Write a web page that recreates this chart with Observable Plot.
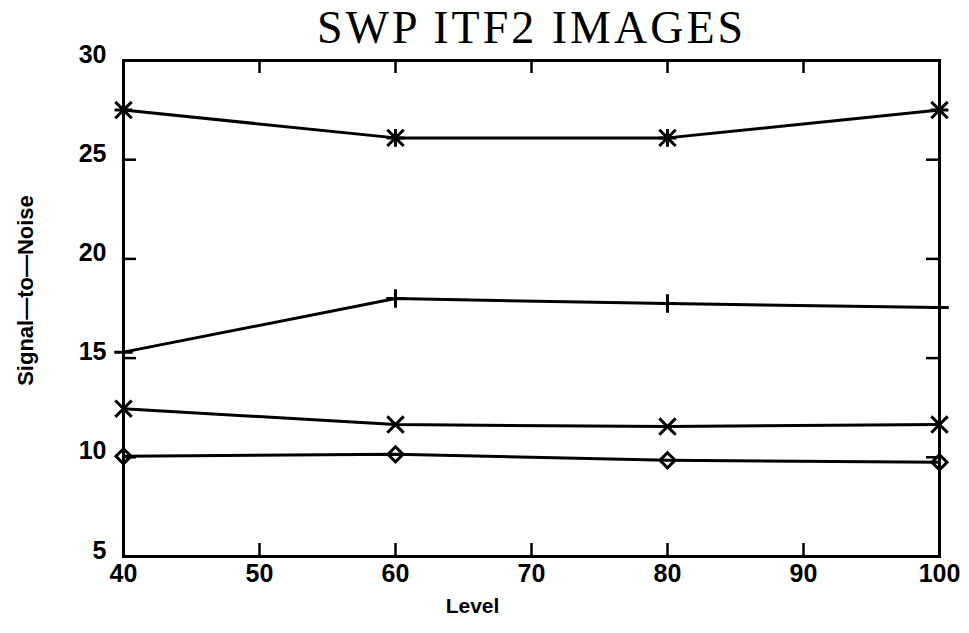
<!DOCTYPE html>
<html>
<head>
<meta charset="utf-8">
<script src="https://cdn.jsdelivr.net/npm/d3@7"></script>
<script src="https://cdn.jsdelivr.net/npm/@observablehq/plot@0.6"></script>
<style>
  html, body { margin: 0; padding: 0; background: #fff; }
</style>
</head>
<body>
<div id="chart"></div>
<script>
// ---- data ----
const levels = [40, 60, 80, 100];
const seriesStar    = [27.5, 26.1, 26.1, 27.5];     // asterisk markers
const seriesPlus    = [15.3, 18.0, 17.75, 17.55];   // plus markers
const seriesTimes   = [12.45, 11.65, 11.55, 11.65]; // x markers
const seriesDiamond = [10.05, 10.15, 9.85, 9.75];   // diamond markers
const xTickValues = [40, 50, 60, 70, 80, 90, 100];
const yTickValues = [5, 10, 15, 20, 25, 30];
const titleText = "SWP ITF2 IMAGES";
const xLabel = "Level";
const yLabel = "Signal\u2014to\u2014Noise";

const seriesList = [
  {name: "star", values: seriesStar},
  {name: "plus", values: seriesPlus},
  {name: "times", values: seriesTimes},
  {name: "diamond", values: seriesDiamond}
];
const rows = seriesList.flatMap(s => levels.map((lv, i) => ({series: s.name, level: lv, snr: s.values[i]})));
const bySeries = name => rows.filter(d => d.series === name);

const W = 969, H = 633;
const M = {top: 60, right: 30, bottom: 77, left: 123};
const fw = W - M.left - M.right, fh = H - M.top - M.bottom;
const tickLen = 13;
const innerX = xTickValues.slice(1, -1);
const innerY = yTickValues.slice(1, -1);
const sans = "'Liberation Sans', Arial, sans-serif";
const dotStyle = {x: "level", y: "snr", stroke: "black", strokeWidth: 3, fill: "none"};

const marks = [
  Plot.frame({stroke: "black", strokeWidth: 3}),
  // inward ticks on all four sides
  Plot.tickX(innerX, {x: d => d, insetTop: fh - tickLen, stroke: "black", strokeWidth: 2.5}),
  Plot.tickX(innerX, {x: d => d, insetBottom: fh - tickLen, stroke: "black", strokeWidth: 2.5}),
  Plot.tickY(innerY, {y: d => d, insetRight: fw - tickLen, stroke: "black", strokeWidth: 2.5}),
  Plot.tickY(innerY, {y: d => d, insetLeft: fw - tickLen, stroke: "black", strokeWidth: 2.5}),
  Plot.axisX({ticks: xTickValues, tickSize: 0, tickPadding: 8, fontSize: 25, fontWeight: "bold", fontFamily: sans, label: null}),
  Plot.axisY({ticks: yTickValues, tickSize: 0, tickPadding: 17, dy: -6, fontSize: 25, fontWeight: "bold", fontFamily: sans, label: null}),
  ...seriesList.map(s => Plot.line(bySeries(s.name), {x: "level", y: "snr", stroke: "black", strokeWidth: 3})),
  // Matlab-style '*' = plus + times
  Plot.dot(bySeries("star"), {...dotStyle, symbol: "plus", r: 5.8}),
  Plot.dot(bySeries("star"), {...dotStyle, symbol: "times", r: 7.5}),
  Plot.dot(bySeries("plus"), {...dotStyle, symbol: "plus", r: 6}),
  Plot.dot(bySeries("times"), {...dotStyle, symbol: "times", r: 7.5}),
  Plot.dot(bySeries("diamond"), {...dotStyle, symbol: "diamond2", r: 6.8}),
  Plot.text([titleText], {frameAnchor: "top", dy: -18, lineAnchor: "bottom", fontSize: 46, fontFamily: "'Liberation Serif', 'Times New Roman', serif", fill: "black"}),
  Plot.text([xLabel], {frameAnchor: "bottom", dy: 56, dx: -59, lineAnchor: "bottom", textAnchor: "middle", fontSize: 21, fontWeight: "bold", fontFamily: sans, fill: "black"}),
  Plot.text([yLabel], {frameAnchor: "left", dx: -98, dy: -18, rotate: -90, textAnchor: "middle", fontSize: 22, fontWeight: "bold", fontFamily: sans, fill: "black"})
];

const chart = Plot.plot({
  width: W,
  height: H,
  marginTop: M.top, marginRight: M.right, marginBottom: M.bottom, marginLeft: M.left,
  style: {background: "white", color: "black", overflow: "visible"},
  x: {domain: [40, 100]},
  y: {domain: [5, 30]},
  marks
});
// widen the serif title to the reference's Computer-Modern-like proportions
d3.select(chart).selectAll("text").filter(function() { return this.textContent === titleText; }).attr("letter-spacing", "3px");
document.getElementById("chart").appendChild(chart);
</script>
</body>
</html>
